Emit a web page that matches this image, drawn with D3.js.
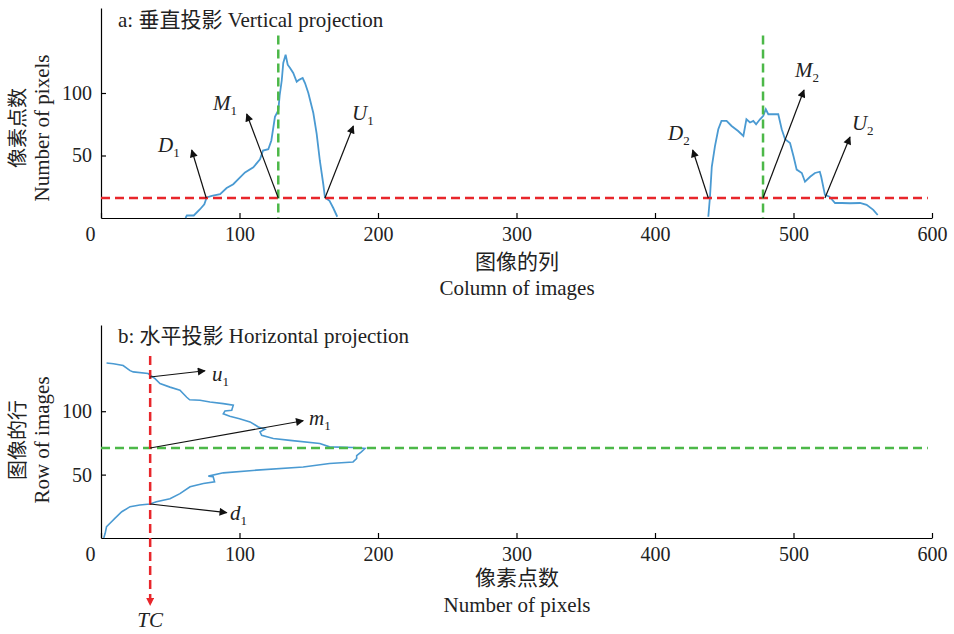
<!DOCTYPE html>
<html>
<head>
<meta charset="utf-8">
<script src="https://cdn.jsdelivr.net/npm/d3@7"></script>
<style>
  body { margin: 0; background: #fff; }
  svg text { font-family: "Liberation Serif", "Times New Roman", "Noto Sans CJK SC", serif; fill: #222; }
  .axis path, .axis line { stroke: #000; stroke-width: 1.2; }
  .axis text { font-size: 20px; }
</style>
</head>
<body>
<div id="container"></div>
<script>
// vertical projection: two column segments (column index, pixel count)
const colSeg1 = [61, 62, 67, 71.5, 74.6, 76.3, 80, 86, 90.7, 95.5, 100.4, 104, 110, 114.8, 117, 120.8, 123, 125.6, 128, 129, 130.5, 131.6, 133.3, 134.8, 136.5, 138.8, 141.3, 143, 145.6, 147.3, 149.7, 153.3, 155.7, 158, 160.5, 161.7, 165, 167.7, 170.6];
const cntSeg1 = [0, 2, 2, 7, 11, 16.4, 17.7, 19, 24, 27, 32.5, 36.5, 40.6, 47, 54, 55, 62, 81, 86, 98, 110, 124, 130.6, 122.6, 120, 116, 109, 110.5, 112, 108, 100, 84, 67.5, 46, 27, 16.4, 13.7, 8, 1];
const colSeg2 = [438.5, 439.7, 441, 443.3, 445.7, 448, 451.7, 455.3, 460, 463.8, 466, 468.6, 471, 473, 475.8, 478.2, 480, 481.8, 485.4, 489, 491.5, 493.9, 497.5, 500, 502.3, 506, 508.3, 512, 515.5, 519, 520, 522.7, 526, 530, 534.8, 540.8, 548, 552.8, 557.6, 560.8];
const cntSeg2 = [1, 17, 41, 57.5, 71, 77.7, 77.7, 73.6, 69.6, 65.6, 79, 76.4, 77.7, 75, 79, 81.7, 87, 83, 83, 83, 71, 63, 60, 49.4, 38.7, 36, 29, 33, 36, 37, 33, 18.5, 17, 12, 12, 11.8, 12, 10.5, 6.5, 2.4];

// horizontal projection: (row index, pixel count)
const rowIdx = [138, 137.5, 136, 132, 131, 129.7, 125.7, 121.8, 119, 116.5, 111, 109, 108.7, 107.3, 106, 104.7, 100.8, 100.2, 98, 96, 94, 91.6, 87.6, 85.8, 83.7, 81, 78.5, 77, 74.6, 71.9, 71.4, 70.6, 68, 65, 62.7, 60, 58.8, 56, 53.5, 51.4, 48.8, 48.3, 44.3, 43, 40.4, 35, 31, 28.6, 26.8, 26, 24.7, 20.7, 15.5, 11.6, 8.9, 3.7, 0];
const rowCnt = [4, 9, 16, 21, 23.3, 34, 39, 42.6, 49.8, 57, 61.9, 64, 71.5, 78.7, 88.3, 95.5, 94.4, 89.5, 88.3, 93, 100, 107.6, 113.6, 118.4, 114.8, 116, 124.4, 136.5, 158, 165, 182, 190.6, 188, 184.6, 184.6, 182, 165, 146, 112.4, 88.3, 77.5, 81, 82, 73.9, 64.3, 57, 49.8, 40, 35.4, 28, 21, 15, 10, 6.5, 4, 3, 2];

const xTicks = [0, 100, 200, 300, 400, 500, 600];
const yTicks = [50, 100];

// reference lines
const vThreshold = 16;          // red line, panel a
const vPeaks = [128, 478];      // green lines, panel a
const hThreshold = 35.5;        // red line TC, panel b
const hPeak = 71;               // green line, panel b

// annotations: [from, to, label position], data units
const notesA = [
  { name: "D", sub: "1", from: [76, vThreshold], to: [65.5, 54.4], at: [41.2, 52.8] },
  { name: "M", sub: "1", from: [128, vThreshold], to: [105.2, 83.2], at: [80.9, 86.4] },
  { name: "U", sub: "1", from: [161.7, vThreshold], to: [182.2, 73.6], at: [181.2, 78.4] },
  { name: "D", sub: "2", from: [438.5, vThreshold], to: [427.2, 54.4], at: [409.4, 62.4] },
  { name: "M", sub: "2", from: [478, vThreshold], to: [507.6, 102.4], at: [501, 112.8] },
  { name: "U", sub: "2", from: [522.7, vThreshold], to: [540.8, 64.8], at: [542.2, 70.4] }
];
const notesB = [
  { name: "u", sub: "1", from: [hThreshold, 127], to: [75.1, 131.9], at: [80.1, 123.8] },
  { name: "m", sub: "1", from: [hThreshold, hPeak], to: [146, 92.5], at: [150.2, 89.1] },
  { name: "d", sub: "1", from: [hThreshold, 26.8], to: [90.8, 20], at: [93.1, 14.2] }
];

const w = 954, h = 634;
const svg = d3.select('#container').append('svg').attr('width', w).attr('height', h);

const defs = svg.append('defs');
const mk = (id, color) => defs.append('marker')
  .attr('id', id).attr('viewBox', '0 0 10 10').attr('refX', 9).attr('refY', 5)
  .attr('markerWidth', 10).attr('markerHeight', 8).attr('markerUnits', 'userSpaceOnUse')
  .attr('orient', 'auto')
  .append('path').attr('d', 'M0,0 L10,5 L0,10 Z').attr('fill', color);
mk('arrow', '#111');
mk('arrowRed', '#e8262b');

const blue = '#4a9ad2', red = '#e8262b', green = '#4cb848';

function drawPanel(top, bottom) {
  const x = d3.scaleLinear().domain([0, 600]).range([101, 932]);
  const y = d3.scaleLinear().domain([0, 168]).range([bottom, top]);
  const g = svg.append('g');

  const xa = g.append('g').attr('class', 'axis').attr('transform', `translate(0,${bottom})`)
    .call(d3.axisBottom(x).tickValues(xTicks).tickSizeInner(-5).tickSizeOuter(0).tickPadding(9));
  xa.selectAll('.tick text').filter(d => d === 0).attr('dx', '-11');
  g.append('g').attr('class', 'axis').attr('transform', 'translate(101,0)')
    .call(d3.axisLeft(y).tickValues(yTicks).tickSizeInner(-5).tickSizeOuter(0).tickPadding(9));
  return { g, x, y };
}

function note(p, n) {
  p.g.append('line')
    .attr('x1', p.x(n.from[0])).attr('y1', p.y(n.from[1]))
    .attr('x2', p.x(n.to[0])).attr('y2', p.y(n.to[1]))
    .attr('stroke', '#111').attr('stroke-width', 1.2).attr('marker-end', 'url(#arrow)');
  const t = p.g.append('text').attr('x', p.x(n.at[0])).attr('y', p.y(n.at[1]))
    .style('font-size', '21px').style('font-style', 'italic');
  t.append('tspan').text(n.name);
  t.append('tspan').attr('dy', 5).style('font-size', '13px').style('font-style', 'normal').text(n.sub);
}

// ---------- panel a ----------
const a = drawPanel(8, 218);
const lineA = d3.line().x(d => a.x(d[0])).y(d => a.y(d[1]));
[[colSeg1, cntSeg1], [colSeg2, cntSeg2]].forEach(([cx, cy]) => {
  a.g.append('path').datum(cx.map((c, i) => [c, cy[i]]))
    .attr('fill', 'none').attr('stroke', blue).attr('stroke-width', 1.8).attr('d', lineA);
});
a.g.append('line')
  .attr('x1', a.x(0)).attr('x2', a.x(597)).attr('y1', a.y(vThreshold)).attr('y2', a.y(vThreshold))
  .attr('stroke', red).attr('stroke-width', 2.5).attr('stroke-dasharray', '9,5');
vPeaks.forEach(v => {
  a.g.append('line')
    .attr('x1', a.x(v)).attr('x2', a.x(v)).attr('y1', a.y(146)).attr('y2', a.y(0))
    .attr('stroke', green).attr('stroke-width', 2.5).attr('stroke-dasharray', '9,5');
});
notesA.forEach(n => note(a, n));

a.g.append('text').attr('x', 118).attr('y', 27).style('font-size', '21px')
  .text('a: 垂直投影 Vertical projection');
a.g.append('text').attr('x', 517).attr('y', 269).attr('text-anchor', 'middle').style('font-size', '21px').text('图像的列');
a.g.append('text').attr('x', 517).attr('y', 295).attr('text-anchor', 'middle').style('font-size', '21px').text('Column of images');
a.g.append('text').attr('transform', 'translate(25,128) rotate(-90)').attr('text-anchor', 'middle').style('font-size', '20px').text('像素点数');
a.g.append('text').attr('transform', 'translate(49,128) rotate(-90)').attr('text-anchor', 'middle').style('font-size', '21px').text('Number of pixels');

// ---------- panel b ----------
const b = drawPanel(325, 538);
const lineB = d3.line().x(d => b.x(d[0])).y(d => b.y(d[1]));
b.g.append('path').datum(rowIdx.map((r, i) => [rowCnt[i], r]))
  .attr('fill', 'none').attr('stroke', blue).attr('stroke-width', 1.6).attr('d', lineB);
b.g.append('line')
  .attr('x1', b.x(0)).attr('x2', b.x(597)).attr('y1', b.y(hPeak)).attr('y2', b.y(hPeak))
  .attr('stroke', green).attr('stroke-width', 2.5).attr('stroke-dasharray', '9,5');
b.g.append('line')
  .attr('x1', b.x(hThreshold)).attr('x2', b.x(hThreshold)).attr('y1', b.y(143.5)).attr('y2', b.y(-53))
  .attr('stroke', red).attr('stroke-width', 2.5).attr('stroke-dasharray', '9,5')
  .attr('marker-end', 'url(#arrowRed)');
notesB.forEach(n => note(b, n));
b.g.append('text').attr('x', b.x(hThreshold)).attr('y', b.y(-70.5)).attr('text-anchor', 'middle')
  .style('font-size', '21px').style('font-style', 'italic').text('TC');

b.g.append('text').attr('x', 118).attr('y', 343).style('font-size', '21px')
  .text('b: 水平投影 Horizontal projection');
b.g.append('text').attr('x', 517).attr('y', 585).attr('text-anchor', 'middle').style('font-size', '21px').text('像素点数');
b.g.append('text').attr('x', 517).attr('y', 612).attr('text-anchor', 'middle').style('font-size', '21px').text('Number of pixels');
b.g.append('text').attr('transform', 'translate(25,440) rotate(-90)').attr('text-anchor', 'middle').style('font-size', '20px').text('图像的行');
b.g.append('text').attr('transform', 'translate(49,440) rotate(-90)').attr('text-anchor', 'middle').style('font-size', '21px').text('Row of images');
</script>
</body>
</html>
